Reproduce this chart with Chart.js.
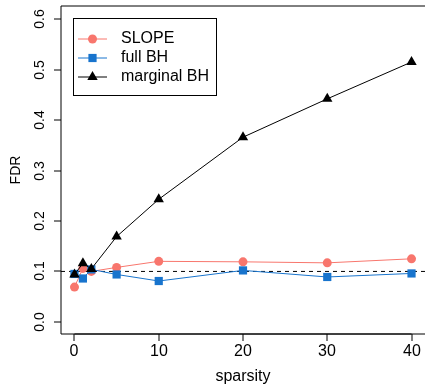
<!DOCTYPE html>
<html>
<head>
<meta charset="utf-8">
<script src="https://cdn.jsdelivr.net/npm/chart.js@4.4.1/dist/chart.umd.min.js"></script>
<style>
  html, body { margin: 0; padding: 0; background: #ffffff; overflow: hidden; }
  #wrap { width: 425px; height: 385px; position: relative; }
  canvas { display: block; }
</style>
</head>
<body>
<div id="wrap"><canvas id="fdrChart" width="425" height="385"></canvas></div>
<script>
// Sparsity levels and the false discovery rate of each procedure
const sparsity = [0, 1, 2, 5, 10, 20, 30, 40];
const slopeFDR = [0.069, 0.106, 0.100, 0.108, 0.120, 0.119, 0.117, 0.125];
const fullBhFDR = [0.095, 0.086, 0.104, 0.094, 0.081, 0.102, 0.089, 0.096];
const marginalBhFDR = [0.094, 0.116, 0.105, 0.169, 0.243, 0.366, 0.442, 0.515];

const seriesNames = ['SLOPE', 'full BH', 'marginal BH'];
const xTicks = [0, 10, 20, 30, 40];
const yTicks = [0.0, 0.1, 0.2, 0.3, 0.4, 0.5, 0.6];
const targetLevel = 0.1;

const xTitle = 'sparsity';
const yTitle = 'FDR';

const FONT_H = '16px "Liberation Sans", Arial, Helvetica, sans-serif';
const FONT_V = '14px "Liberation Sans", Arial, Helvetica, sans-serif';

function pairs(xs, ys) { return xs.map((x, i) => ({ x: x, y: ys[i] })); }

const styles = [
  { color: '#F8766D', pointStyle: 'circle', radius: 4.5 },
  { color: '#1874CD', pointStyle: 'rect', radius: 5.8 },
  { color: '#000000', pointStyle: 'triangle', radius: 6 }
];
const seriesData = [slopeFDR, fullBhFDR, marginalBhFDR];

const datasets = seriesData.map((vals, i) => ({
  label: seriesNames[i],
  data: pairs(sparsity, vals),
  borderColor: styles[i].color,
  backgroundColor: styles[i].color,
  pointBackgroundColor: styles[i].color,
  pointBorderColor: styles[i].color,
  pointBorderWidth: 0,
  pointStyle: styles[i].pointStyle,
  pointRadius: styles[i].radius,
  pointHoverRadius: styles[i].radius,
  borderWidth: 1,
  tension: 0,
  fill: false,
  order: 2 - i
}));

// Axes, frame, reference line and legend drawn in base-graphics style
const basePlot = {
  id: 'basePlot',
  beforeDatasetsDraw(chart) {
    const ctx = chart.ctx;
    const ys = chart.scales.y;
    const a = chart.chartArea;
    const yRef = ys.getPixelForValue(targetLevel);
    ctx.save();
    ctx.strokeStyle = '#000000';
    ctx.lineWidth = 1;
    ctx.setLineDash([4, 4]);
    ctx.beginPath();
    ctx.moveTo(a.left, yRef);
    ctx.lineTo(a.right, yRef);
    ctx.stroke();
    ctx.restore();
  },
  afterDraw(chart) {
    const ctx = chart.ctx;
    const xs = chart.scales.x, ys = chart.scales.y;
    const a = chart.chartArea;
    ctx.save();
    ctx.strokeStyle = '#000000';
    ctx.fillStyle = '#000000';
    ctx.lineWidth = 1;
    ctx.setLineDash([]);

    // frame: top, left, bottom
    ctx.beginPath();
    ctx.moveTo(a.right + 2, a.top);
    ctx.lineTo(a.left, a.top);
    ctx.lineTo(a.left, a.bottom);
    ctx.lineTo(a.right + 2, a.bottom);
    ctx.stroke();

    // x axis
    const x0 = xs.getPixelForValue(xTicks[0]);
    const x1 = xs.getPixelForValue(xTicks[xTicks.length - 1]);
    ctx.beginPath();
    ctx.moveTo(x0, a.bottom);
    ctx.lineTo(x1, a.bottom);
    ctx.stroke();
    ctx.font = FONT_H;
    ctx.textAlign = 'center';
    ctx.textBaseline = 'middle';
    xTicks.forEach(v => {
      const px = Math.round(xs.getPixelForValue(v));
      ctx.beginPath();
      ctx.moveTo(px, a.bottom);
      ctx.lineTo(px, a.bottom + 7);
      ctx.stroke();
      ctx.fillText(String(v), px, a.bottom + 18);
    });
    ctx.fillText(xTitle, (a.left + a.right) / 2, a.bottom + 43);

    // y axis
    ctx.font = FONT_V;
    yTicks.forEach(v => {
      const py = Math.round(ys.getPixelForValue(v));
      ctx.beginPath();
      ctx.moveTo(a.left - 7, py);
      ctx.lineTo(a.left, py);
      ctx.stroke();
      ctx.save();
      ctx.translate(a.left - 21, py);
      ctx.rotate(-Math.PI / 2);
      ctx.fillText(v.toFixed(1), 0, 0);
      ctx.restore();
    });
    ctx.save();
    ctx.translate(16, (a.top + a.bottom) / 2);
    ctx.rotate(-Math.PI / 2);
    ctx.fillText(yTitle, 0, 0);
    ctx.restore();

    // legend
    const lx = 73, ly = 18, lw = 143, lh = 77;
    ctx.fillStyle = '#ffffff';
    ctx.fillRect(lx, ly, lw, lh);
    ctx.strokeStyle = '#000000';
    ctx.strokeRect(lx + 0.5, ly + 0.5, lw, lh);
    ctx.font = FONT_H;
    ctx.textAlign = 'left';
    ctx.textBaseline = 'middle';
    seriesNames.forEach((name, i) => {
      const cy = ly + 21 + i * 19;
      ctx.strokeStyle = styles[i].color;
      ctx.lineWidth = 1;
      ctx.beginPath();
      ctx.moveTo(lx + 5, cy);
      ctx.lineTo(lx + 34, cy);
      ctx.stroke();
      ctx.fillStyle = styles[i].color;
      Chart.helpers.drawPoint(ctx, {
        pointStyle: styles[i].pointStyle,
        radius: styles[i].radius,
        rotation: 0,
        borderWidth: 0
      }, lx + 19.5, cy);
      ctx.fillStyle = '#000000';
      ctx.fillText(name, lx + 48, cy);
    });
    ctx.restore();
  }
};

new Chart(document.getElementById('fdrChart'), {
  type: 'line',
  data: { datasets: datasets },
  options: {
    responsive: false,
    animation: false,
    devicePixelRatio: 1,
    layout: { autoPadding: false, padding: { left: 61, top: 6, right: 0, bottom: 51 } },
    scales: {
      x: { type: 'linear', min: -1.6, max: 41.6, display: false },
      y: { type: 'linear', min: -0.024, max: 0.626, display: false }
    },
    plugins: {
      legend: { display: false },
      tooltip: { enabled: false }
    }
  },
  plugins: [basePlot]
});
</script>
</body>
</html>
